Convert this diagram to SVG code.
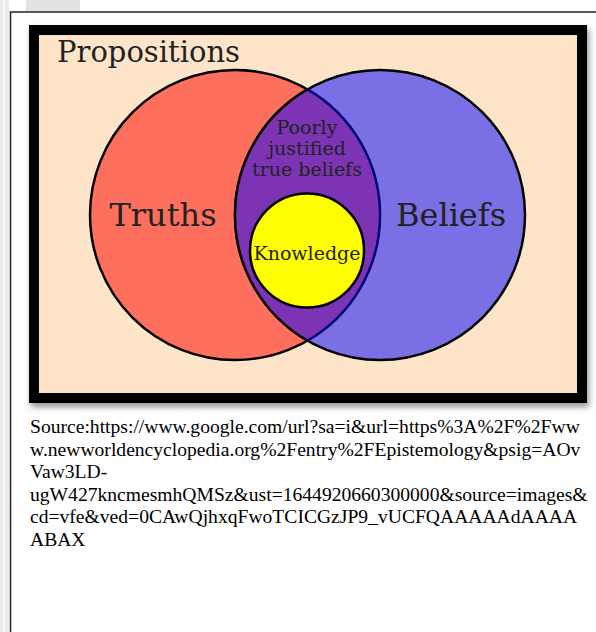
<svg xmlns="http://www.w3.org/2000/svg" width="596" height="632" viewBox="0 0 596 632">
  <defs>
    <style>
      .lbl { font-family: "DejaVu Serif", serif; fill: #222; }
      .cap { font-family: "Liberation Serif", "Times New Roman", serif; font-size: 19.6px; fill: #000; }
      .ring { stroke: #000; stroke-width: 2.5; }
    </style>
    <filter id="shadow" x="-5%" y="-5%" width="112%" height="115%">
      <feDropShadow dx="2" dy="4" stdDeviation="3" flood-color="#666" flood-opacity="0.7"/>
    </filter>
  </defs>
  <rect width="596" height="632" fill="#fff"/>
  <g id="background">
    <rect x="0" y="0" width="9" height="632" fill="#ececec"/>
    <rect x="3" y="0" width="2" height="632" fill="#f8f8f8"/>
    <rect x="26" y="0" width="54" height="11" fill="#e2e2e2"/>
  </g>
  <g id="page-frame">
    <path d="M596,12 H10.5 V632" fill="none" stroke="#222" stroke-width="1.5"/>
  </g>
  <g id="propositions">
    <rect x="34" y="30" width="548" height="368" fill="#fee5ca" stroke="#000" stroke-width="10" filter="url(#shadow)"/>
    <text class="lbl" x="57" y="62" font-size="29">Propositions</text>
  </g>
  <g id="truths">
    <circle class="ring" cx="235" cy="215" r="145" fill="#fe6f5e"/>
  </g>
  <g id="beliefs">
    <circle class="ring" cx="380" cy="215" r="145" fill="#7a6fe4"/>
  </g>
  <g id="poorly-justified">
    <path d="M307.5,89.4 A145,145 0 0 1 307.5,340.6 A145,145 0 0 1 307.5,89.4 Z" fill="#7c34b4"/>
  </g>
  <g id="connectors">
    <path d="M307.5,340.6 A145,145 0 0 1 307.5,89.4" fill="none" stroke="#000" stroke-width="2.5"/>
    <path d="M307.5,89.4 A145,145 0 0 1 307.5,340.6" fill="none" stroke="#00007a" stroke-width="2.5"/>
  </g>
  <g id="knowledge">
    <circle class="ring" cx="307" cy="250.5" r="57" fill="#ffff00"/>
    <text class="lbl" x="307" y="260" font-size="19" text-anchor="middle" fill="#2a2a00">Knowledge</text>
  </g>
  <g id="labels">
    <text class="lbl" x="163" y="226" font-size="32" text-anchor="middle">Truths</text>
    <text class="lbl" x="451" y="226" font-size="32" text-anchor="middle">Beliefs</text>
    <text class="lbl" x="307" y="134" font-size="19" text-anchor="middle">Poorly</text>
    <text class="lbl" x="307" y="155" font-size="19" text-anchor="middle">justified</text>
    <text class="lbl" x="307" y="176" font-size="19" text-anchor="middle">true beliefs</text>
  </g>
  <g id="caption">
    <text class="cap" x="30" y="433">Source:https://www.google.com/url?sa=i&amp;url=https%3A%2F%2Fww</text>
    <text class="cap" x="30" y="455.5">w.newworldencyclopedia.org%2Fentry%2FEpistemology&amp;psig=AOv</text>
    <text class="cap" x="30" y="478">Vaw3LD-</text>
    <text class="cap" x="30" y="500.5">ugW427kncmesmhQMSz&amp;ust=1644920660300000&amp;source=images&amp;</text>
    <text class="cap" x="30" y="523">cd=vfe&amp;ved=0CAwQjhxqFwoTCICGzJP9_vUCFQAAAAAdAAAA</text>
    <text class="cap" x="30" y="545.5">ABAX</text>
  </g>
</svg>
